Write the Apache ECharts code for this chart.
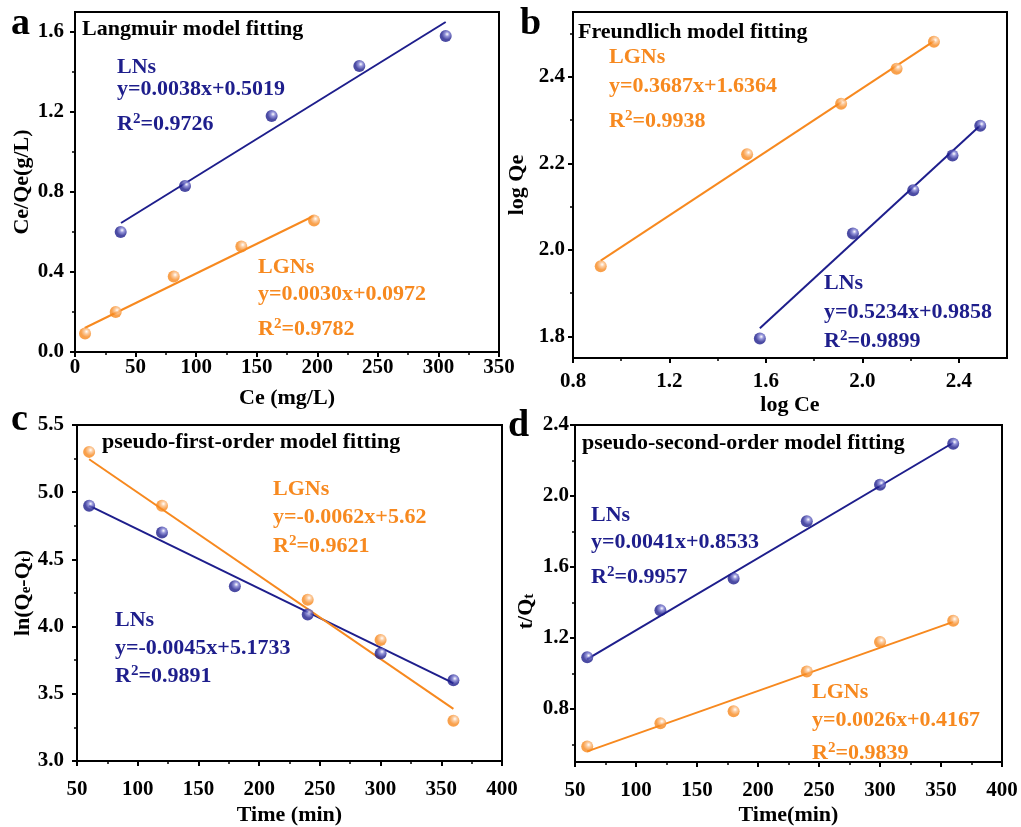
<!DOCTYPE html>
<html><head><meta charset="utf-8">
<script src="https://cdn.jsdelivr.net/npm/echarts@6/dist/echarts.min.js"></script>
<style>html,body{margin:0;padding:0;background:#fff}#c{width:1021px;height:827px}</style>
</head><body><div id="c"></div>
<script>
// ---------- data ----------
// (a) Langmuir
const aCe_LNs = [37.7, 90.8, 162.3, 234.7, 306.0];
const aCeQe_LNs = [0.60, 0.83, 1.18, 1.43, 1.58];
const aCe_LGNs = [8.3, 33.6, 81.5, 137.3, 197.3];
const aCeQe_LGNs = [0.093, 0.20, 0.377, 0.527, 0.657];
const aFit_LNs = [[38, 0.645], [306, 1.65]];
const aFit_LGNs = [[8, 0.12], [197, 0.68]];
// (b) Freundlich
const bLogCe_LGNs = [0.915, 1.522, 1.912, 2.142, 2.297];
const bLogQe_LGNs = [1.962, 2.221, 2.338, 2.419, 2.481];
const bLogCe_LNs = [1.575, 1.961, 2.211, 2.374, 2.489];
const bLogQe_LNs = [1.795, 2.038, 2.138, 2.218, 2.287];
const bFit_LGNs = [[0.915, 1.975], [2.30, 2.484]];
const bFit_LNs = [[1.575, 1.819], [2.49, 2.288]];
// (c) pseudo-first-order
const time = [60, 120, 180, 240, 300, 360];
const cLn_LNs = [4.90, 4.70, 4.30, 4.09, 3.80, 3.60];
const cTime_LGNs = [60, 120, 240, 300, 360];
const cLn_LGNs = [5.30, 4.90, 4.20, 3.90, 3.30];
const cFit_LNs = [[60, 4.90], [360, 3.58]];
const cFit_LGNs = [[60, 5.245], [360, 3.388]];
// (d) pseudo-second-order
const dTQ_LNs = [1.09, 1.356, 1.535, 1.857, 2.063, 2.294];
const dTQ_LGNs = [0.587, 0.719, 0.786, 1.01, 1.176, 1.296];
const dFit_LNs = [[60, 1.08], [360, 2.30]];
const dFit_LGNs = [[60, 0.56], [360, 1.29]];

// ---------- tick labels ----------
const aXTicks = [0, 50, 100, 150, 200, 250, 300, 350];
const aXMinor = [25, 75, 125, 175, 225, 275, 325];
const aYTicks = [0.0, 0.4, 0.8, 1.2, 1.6];
const aYMinor = [0.2, 0.6, 1.0, 1.4];
const bXTicks = [0.8, 1.2, 1.6, 2.0, 2.4];
const bXMinor = [1.0, 1.4, 1.8, 2.2];
const bYTicks = [1.8, 2.0, 2.2, 2.4];
const bYMinor = [1.9, 2.1, 2.3, 2.5];
const timeTicks = [50, 100, 150, 200, 250, 300, 350, 400];
const timeMinor = [75, 125, 175, 225, 275, 325, 375];
const cYTicks = [3.0, 3.5, 4.0, 4.5, 5.0, 5.5];
const cYMinor = [3.25, 3.75, 4.25, 4.75, 5.25];
const dYTicks = [0.8, 1.2, 1.6, 2.0, 2.4];
const dYMinor = [0.6, 1.0, 1.4, 1.8, 2.2];

// ---------- texts ----------
const panelLetters = ['a', 'b', 'c', 'd'];
const panelTitles = ['Langmuir model fitting', 'Freundlich model fitting', 'pseudo-first-order model fitting', 'pseudo-second-order model fitting'];
const eqLNs = ['y=0.0038x+0.5019', 'y=0.5234x+0.9858', 'y=-0.0045x+5.1733', 'y=0.0041x+0.8533'];
const r2LNs = ['0.9726', '0.9899', '0.9891', '0.9957'];
const eqLGNs = ['y=0.0030x+0.0972', 'y=0.3687x+1.6364', 'y=-0.0062x+5.62', 'y=0.0026x+0.4167'];
const r2LGNs = ['0.9782', '0.9938', '0.9621', '0.9839'];

// ---------- styling ----------
const FONT = '"Liberation Serif","Times New Roman",serif';
const BLUE = '#1e1e8c';
const ORANGE = '#f7891f';
const zip = (xs, ys) => xs.map((x, i) => [x, ys[i]]);

function ball(base, light) {
  return { type: 'radial', x: 0.62, y: 0.35, r: 0.75, colorStops: [
    { offset: 0, color: '#ffffff' }, { offset: 0.25, color: light }, { offset: 0.6, color: base }, { offset: 1, color: base }] };
}

const grids = [
  { left: 75, top: 12, width: 424, height: 340 },
  { left: 573, top: 12, width: 434, height: 346 },
  { left: 77, top: 425, width: 425, height: 343 },
  { left: 575, top: 425, width: 427, height: 344 }
].map(g => Object.assign(g, { show: true, borderColor: '#000', borderWidth: 2, backgroundColor: 'transparent' }));

const xAxes = [], yAxes = [];
function axisPair(list, kind, gi, min, max, major, minor, dec, name, gap, margin, rich, namePad) {
  const pos = kind === 'x' ? 'bottom' : 'left';
  list.push({
    type: 'value', gridIndex: gi, min, max, position: pos,
    name, nameLocation: 'middle', nameGap: gap,
    nameTextStyle: { fontFamily: FONT, fontWeight: 'bold', fontSize: 22, color: '#000', rich: rich, padding: namePad || 0 },
    axisLine: { show: true, onZero: false, lineStyle: { color: '#000', width: 2 } },
    axisTick: { show: true, inside: false, length: 5, lineStyle: { color: '#000', width: 2 }, customValues: major },
    axisLabel: { show: true, fontFamily: FONT, fontWeight: 'bold', fontSize: 21, color: '#000', margin: margin,
      customValues: major, formatter: v => Number(v).toFixed(dec) },
    splitLine: { show: false }
  });
  list.push({
    type: 'value', gridIndex: gi, min, max, position: pos,
    axisLine: { show: false },
    axisTick: { show: true, inside: false, length: 3, lineStyle: { color: '#000', width: 1.5 }, customValues: minor },
    axisLabel: { show: false },
    splitLine: { show: false }
  });
}
const subRich = { s: { fontSize: 15, fontWeight: 'bold', fontFamily: FONT, color: '#000', padding: [7, 0, 0, 0] } };
axisPair(xAxes, 'x', 0, 0, 350, aXTicks, aXMinor, 0, 'Ce (mg/L)', 35, 5);
axisPair(yAxes, 'y', 0, 0, 1.7, aYTicks, aYMinor, 1, 'Ce/Qe(g/L)', 42, 11);
axisPair(xAxes, 'x', 1, 0.8, 2.6, bXTicks, bXMinor, 1, 'log Ce', 36, 13);
axisPair(yAxes, 'y', 1, 1.75, 2.55, bYTicks, bYMinor, 1, 'log Qe', 45, 8);
axisPair(xAxes, 'x', 2, 50, 400, timeTicks, timeMinor, 0, 'Time (min)', 43, 18);
axisPair(yAxes, 'y', 2, 3.0, 5.5, cYTicks, cYMinor, 1, 'ln(Q{s|e}-Q{s|t})', 41, 13, subRich);
axisPair(xAxes, 'x', 3, 50, 400, timeTicks, timeMinor, 0, 'Time(min)', 42, 18);
axisPair(yAxes, 'y', 3, 0.5, 2.4, dYTicks, dYMinor, 1, 't/Q{s|t}', 38, 6, subRich, [0, 36, 0, 0]);

const series = [];
function addPanel(gi, ptsLNs, fitLNs, ptsLGNs, fitLGNs) {
  const ax = { xAxisIndex: gi * 2, yAxisIndex: gi * 2 };
  series.push(Object.assign({ type: 'line', data: fitLNs, showSymbol: false, lineStyle: { color: BLUE, width: 2 }, z: 2, silent: true }, ax));
  series.push(Object.assign({ type: 'line', data: fitLGNs, showSymbol: false, lineStyle: { color: ORANGE, width: 2 }, z: 2, silent: true }, ax));
  series.push(Object.assign({ type: 'scatter', data: ptsLNs, symbolSize: 12, itemStyle: { color: ball(BLUE, '#7a7ad0') }, z: 3 }, ax));
  series.push(Object.assign({ type: 'scatter', data: ptsLGNs, symbolSize: 12, itemStyle: { color: ball(ORANGE, '#fbc08a') }, z: 3 }, ax));
}
addPanel(0, zip(aCe_LNs, aCeQe_LNs), aFit_LNs, zip(aCe_LGNs, aCeQe_LGNs), aFit_LGNs);
addPanel(1, zip(bLogCe_LNs, bLogQe_LNs), bFit_LNs, zip(bLogCe_LGNs, bLogQe_LGNs), bFit_LGNs);
addPanel(2, zip(time, cLn_LNs), cFit_LNs, zip(cTime_LGNs, cLn_LGNs), cFit_LGNs);
addPanel(3, zip(time, dTQ_LNs), dFit_LNs, zip(time, dTQ_LGNs), dFit_LGNs);

// ---------- annotation text ----------
const graphic = [];
function T(x, y, text, color, size, rich) {
  graphic.push({ type: 'text', z: 10, style: { x, y, text, fill: color, font: 'bold ' + size + 'px ' + FONT,
    fontFamily: FONT, fontWeight: 'bold', fontSize: size, verticalAlign: 'middle', align: 'left', rich: rich } });
}
function supRich(color) {
  return { p: { fontSize: 15, fontWeight: 'bold', fontFamily: FONT, fill: color, padding: [0, 0, 9, 0] } };
}
function block(x, y1, y2, y3, name, eq, r2, color) {
  T(x, y1, name, color, 22);
  T(x, y2, eq, color, 22);
  T(x, y3, 'R{p|2}=' + r2, color, 22, supRich(color));
}
// panel letters
const letterPos = [[11, 24], [520, 24], [11, 420], [508, 426]];
panelLetters.forEach((l, i) => T(letterPos[i][0], letterPos[i][1], l, '#000', 38));
// titles
const titlePos = [[82, 29], [578, 32], [102, 442], [582, 443]];
panelTitles.forEach((t, i) => T(titlePos[i][0], titlePos[i][1], t, '#000', 22));
// (a)
block(117, 67, 89, 124, 'LNs', eqLNs[0], r2LNs[0], BLUE);
block(258, 267, 294, 329, 'LGNs', eqLGNs[0], r2LGNs[0], ORANGE);
// (b)
block(609, 57, 86, 121, 'LGNs', eqLGNs[1], r2LGNs[1], ORANGE);
block(824, 283, 312, 341, 'LNs', eqLNs[1], r2LNs[1], BLUE);
// (c)
block(273, 489, 517, 546, 'LGNs', eqLGNs[2], r2LGNs[2], ORANGE);
block(115, 620, 648, 676, 'LNs', eqLNs[2], r2LNs[2], BLUE);
// (d)
block(591, 515, 542, 577, 'LNs', eqLNs[3], r2LNs[3], BLUE);
block(812, 692, 720, 753, 'LGNs', eqLGNs[3], r2LGNs[3], ORANGE);

const chart = echarts.init(document.getElementById('c'), null, { renderer: 'canvas' });
chart.setOption({
  animation: false,
  backgroundColor: '#fff',
  grid: grids,
  xAxis: xAxes,
  yAxis: yAxes,
  series,
  graphic
});
</script>
</body></html>
